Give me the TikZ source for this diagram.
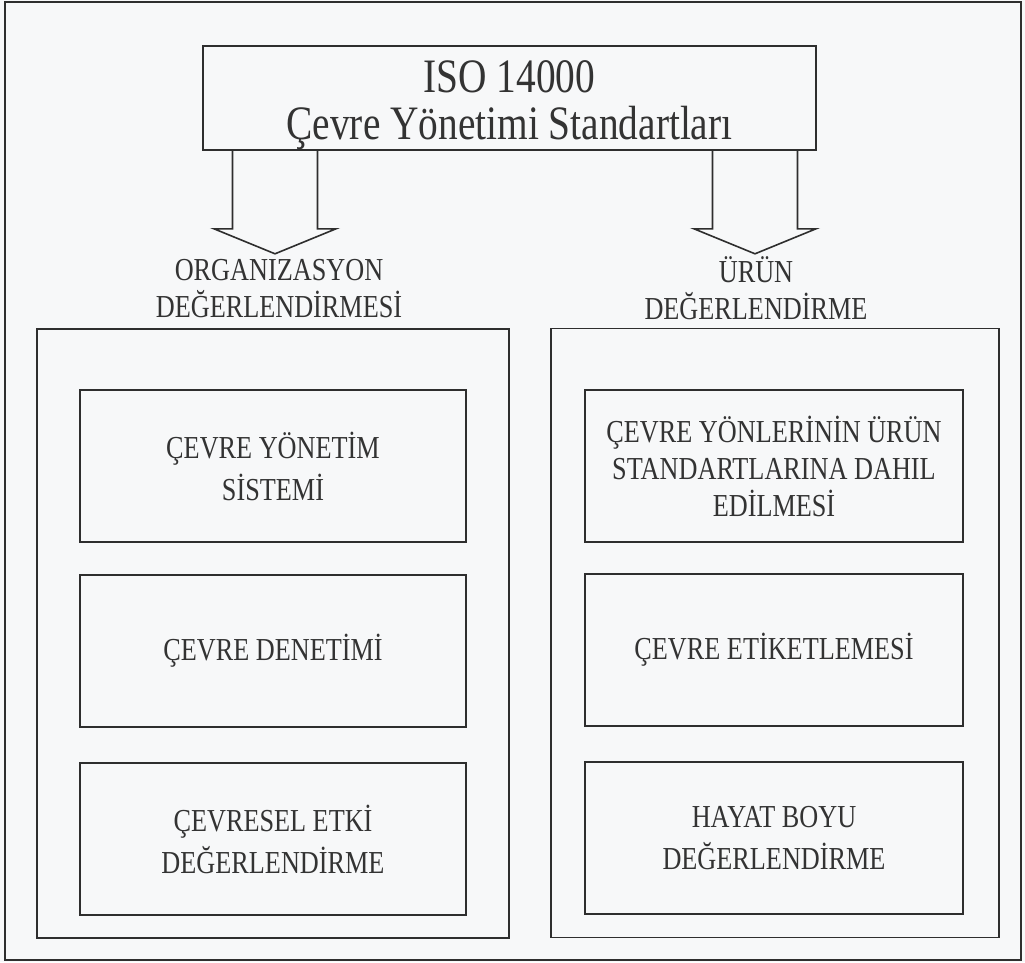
\documentclass[tikz,border=0pt]{standalone}
\usepackage{fontspec}
\setmainfont{Liberation Serif}[FakeStretch=0.82]
\usepackage{xcolor}
\usepackage{tikz}
\usetikzlibrary{positioning,calc}
\definecolor{paper}{HTML}{F7F8F9}
\definecolor{inkgray}{HTML}{333333}
\definecolor{linegray}{HTML}{2E2E2E}

\tikzset{
  panel/.style={draw=linegray, line width=1.6pt, inner sep=0pt},
  stdbox/.style={panel, minimum width=613pt, minimum height=104pt},
  stdtext/.style={align=center, text=inkgray, font=\fontsize{48}{47}\selectfont},
  groupbox/.style={panel, minimum height=609pt},
  itembox/.style={panel, minimum height=152pt, align=center,
    text=inkgray, font=\fontsize{32}{42}\selectfont},
  grouplabel/.style={align=center, text=inkgray, font=\fontsize{32}{37}\selectfont},
  hollowarrow/.style={draw=linegray, line width=1.6pt, line join=miter},
}

\begin{document}
\begin{tikzpicture}[x=1pt, y=-1pt]
  % page and outer frame
  \fill[paper] (0,0) rectangle (1025,962);
  \useasboundingbox (0,0) rectangle (1025,962);
  \draw[linegray, line width=2.4pt] (5,2) rectangle (1021,960);

  % ISO 14000 box
  \node[stdbox] (top) at (509.5,98) {};
  \node[stdtext] (toptext) at ([yshift=-7pt]top.center) {ISO 14000\\Çevre Yönetimi Standartları};

  % two groups
  \node[groupbox, minimum width=472pt] (orggrp) at (273,633.5) {};
  \node[groupbox, minimum width=448pt] (prdgrp) at (775,633) {};

  \node[grouplabel] (orglbl) at (279,289) {ORGANIZASYON\\DEĞERLENDİRMESİ};
  \node[grouplabel] (prdlbl) at (756,288) {ÜRÜN\\DEĞERLENDİRME};

  % hollow arrows from the top box
  \foreach \lbl/\dx in {orglbl/-4, prdlbl/-1}{
    \draw[hollowarrow] ([xshift=\dx pt]\lbl |- top.south) ++(-42.5,0) -- ++(0,78)
      -- ++(-18.5,0) -- ++(61,25) -- ++(61,-25) -- ++(-18.5,0) -- ++(0,-78);
  }

  % organisation items
  \node[itembox, minimum width=386pt] (ems) at (273,466) {ÇEVRE YÖNETİM\\SİSTEMİ};
  \node[itembox, minimum width=386pt] (audit) at (273,651) {ÇEVRE DENETİMİ};
  \node[itembox, minimum width=386pt] (eia) at (273,839) {ÇEVRESEL ETKİ\\DEĞERLENDİRME};

  % product items
  \node[itembox, minimum width=378pt, font=\fontsize{32}{37}\selectfont] (aspects) at (774,466)
    {ÇEVRE YÖNLERİNİN ÜRÜN\\STANDARTLARINA DAHIL\\EDİLMESİ};
  \node[itembox, minimum width=378pt] (label) at (774,650) {ÇEVRE ETİKETLEMESİ};
  \node[itembox, minimum width=378pt] (lca) at (774,838) {HAYAT BOYU\\DEĞERLENDİRME};
\end{tikzpicture}
\end{document}
